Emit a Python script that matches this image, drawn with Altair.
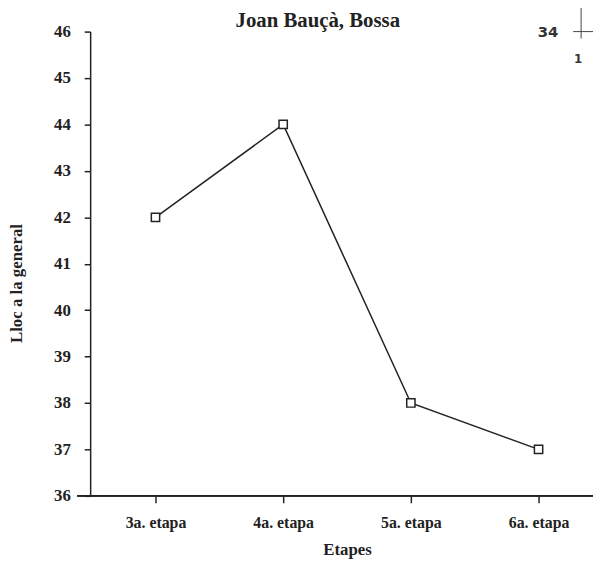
import altair as alt
import pandas as pd

etapes = ["3a. etapa", "4a. etapa", "5a. etapa", "6a. etapa"]
lloc = [42, 44, 38, 37]
y_ticks = [36, 37, 38, 39, 40, 41, 42, 43, 44, 45, 46]
title_text = "Joan Bauçà, Bossa"

df = pd.DataFrame({"Etapes": etapes, "Lloc": lloc})

W, H = 508, 469
FONT = "Liberation Serif"

x_enc = alt.X("Etapes:N", sort=etapes,
              scale=alt.Scale(type="point", range=[66, 453], padding=0),
              axis=alt.Axis(title="Etapes", labelAngle=0, domain=False,
                            tickSize=7, tickWidth=1.5, tickColor="#222",
                            labelPadding=12, titlePadding=11,
                            labelFontSize=16, titleFontSize=17,
                            labelFontWeight="bold", titleFontWeight="bold",
                            labelFont=FONT, titleFont=FONT, labelColor="#222", titleColor="#222"))
y_enc = alt.Y("Lloc:Q",
              scale=alt.Scale(domain=[36, 46], nice=False, zero=False),
              axis=alt.Axis(title="Lloc a la general", values=y_ticks, grid=False,
                            domainColor="#222", domainWidth=1.5,
                            tickSize=6, tickWidth=1.5, tickColor="#222",
                            labelPadding=14, titlePadding=28, titleY=254,
                            labelFontSize=17, titleFontSize=17,
                            labelFontWeight="bold", titleFontWeight="bold",
                            labelFont=FONT, titleFont=FONT, labelColor="#222", titleColor="#222"))

line = alt.Chart(df).mark_line(color="#222", strokeWidth=1.5).encode(x=x_enc, y=y_enc)
pts = alt.Chart(df).mark_point(shape="square", size=70, filled=True, fill="white",
                               stroke="#222", strokeWidth=1.5, opacity=1).encode(x=x_enc, y=y_enc)

xaxis_line = alt.Chart(df).mark_rule(color="#222", strokeWidth=1.5).encode(
    x=alt.value(-13), x2=alt.value(W), y=alt.value(H))

title = alt.Chart(pd.DataFrame({"t": [title_text]})).mark_text(
    font=FONT, fontWeight="bold", fontSize=21, color="#222", align="center", baseline="alphabetic").encode(
    text="t:N", x=alt.value(230), y=alt.value(-5))

n34 = alt.Chart(pd.DataFrame({"t": ["34"]})).mark_text(
    font="DejaVu Sans", fontWeight="bold", fontSize=15, color="#333", align="right").encode(
    text="t:N", x=alt.value(473), y=alt.value(0))
n1 = alt.Chart(pd.DataFrame({"t": ["1"]})).mark_text(
    font="DejaVu Sans", fontWeight="bold", fontSize=12, color="#333", align="center").encode(
    text="t:N", x=alt.value(493), y=alt.value(28))
vrule = alt.Chart(pd.DataFrame({"t": ["a"]})).mark_rule(color="#444", strokeWidth=1).encode(
    x=alt.value(496), y=alt.value(-29), y2=alt.value(7))
hrule = alt.Chart(pd.DataFrame({"t": ["a"]})).mark_rule(color="#444", strokeWidth=1).encode(
    x=alt.value(488), x2=alt.value(W), y=alt.value(0))

chart = alt.layer(xaxis_line, line, pts, title, n34, n1, vrule, hrule).properties(
    width=W, height=H,
    padding={"left": 83, "top": 21, "right": 0, "bottom": 64},
    autosize=alt.AutoSizeParams(type="none"),
).configure_view(stroke=None)

chart.save("out.html", embed_options={"renderer": "svg", "actions": False})
